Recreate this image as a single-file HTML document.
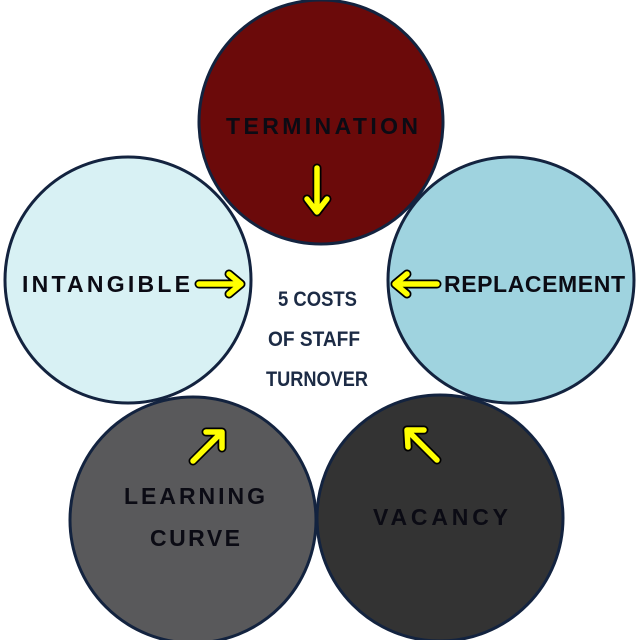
<!DOCTYPE html>
<html><head><style>
html,body{margin:0;padding:0;background:#fff;}
svg{display:block}
.l{font-family:"Liberation Sans",sans-serif;font-weight:bold;font-size:23px;fill:#0b0b14;}
.c{font-family:"Liberation Sans Narrow","Liberation Sans",sans-serif;font-weight:bold;font-size:21px;fill:#1c2b45;}
</style></head><body>
<svg width="640" height="640" viewBox="0 0 640 640">
<g stroke="#13233f" stroke-width="3">
<circle cx="321" cy="122" r="122" fill="#6b0a0a"/>
<circle cx="128" cy="280" r="123" fill="#d8f1f4"/>
<circle cx="511" cy="280" r="123" fill="#9fd3df"/>
<circle cx="193" cy="520" r="123" fill="#59595b"/>
<circle cx="440" cy="518" r="123" fill="#333333"/>
</g>
<text class="l" x="226" y="134" textLength="192" lengthAdjust="spacing">TERMINATION</text>
<text class="l" x="22" y="292" textLength="168" lengthAdjust="spacing">INTANGIBLE</text>
<text class="l" x="444" y="292" textLength="181" lengthAdjust="spacing">REPLACEMENT</text>
<text class="l" x="124" y="504" textLength="141" lengthAdjust="spacing">LEARNING</text>
<text class="l" x="150" y="546" textLength="90" lengthAdjust="spacing">CURVE</text>
<text class="l" x="373" y="525" textLength="135" lengthAdjust="spacing">VACANCY</text>
<text class="c" x="278" y="306" textLength="79" lengthAdjust="spacingAndGlyphs">5 COSTS</text>
<text class="c" x="268" y="346" textLength="92" lengthAdjust="spacingAndGlyphs">OF STAFF</text>
<text class="c" x="266" y="386" textLength="102" lengthAdjust="spacingAndGlyphs">TURNOVER</text>
<g fill="none" stroke-linecap="round" stroke-linejoin="round">
<g stroke="#000" stroke-width="9">
<path d="M317 168V211M307 199L317 212L327 199"/>
<path d="M199 284H240M229 274L241 284L229 294"/>
<path d="M437 284H396M407 274L395 284L407 294"/>
<path d="M193 461L221 433M206 432L222 432L222 448"/>
<path d="M437 460L408 431M408 447L407 430L424 430"/>
</g>
<g stroke="#ffff00" stroke-width="5.5">
<path d="M317 168V211M307 199L317 212L327 199"/>
<path d="M199 284H240M229 274L241 284L229 294"/>
<path d="M437 284H396M407 274L395 284L407 294"/>
<path d="M193 461L221 433M206 432L222 432L222 448"/>
<path d="M437 460L408 431M408 447L407 430L424 430"/>
</g>
</g>
</svg>
</body></html>
